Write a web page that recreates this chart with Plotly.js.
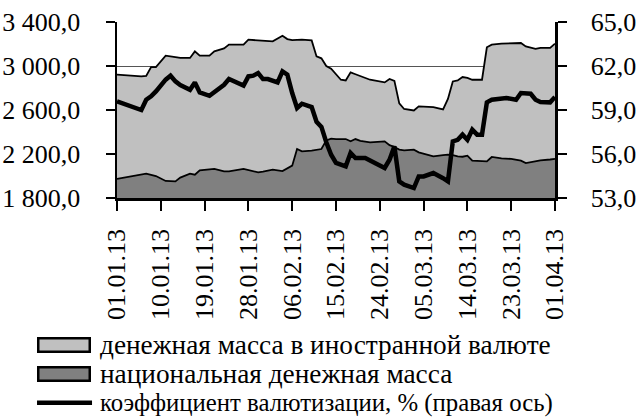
<!DOCTYPE html>
<html>
<head>
<meta charset="utf-8">
<script src="https://cdn.plot.ly/plotly-3.0.1.min.js"></script>
<style>html,body{margin:0;padding:0;background:#fff;}#chart{width:637px;height:419px;}</style>
</head>
<body>
<div id="chart"></div>
<script>
var areaDates = ['2013-01-01','2013-01-04','2013-01-06','2013-01-07','2013-01-08','2013-01-09','2013-01-11','2013-01-13','2013-01-14','2013-01-16',
'2013-01-17','2013-01-18','2013-01-20','2013-01-21','2013-01-23','2013-01-24','2013-01-27','2013-01-28','2013-01-30','2013-01-31',
'2013-02-02','2013-02-04','2013-02-05','2013-02-06','2013-02-07','2013-02-08','2013-02-10','2013-02-11','2013-02-12','2013-02-13',
'2013-02-14','2013-02-15','2013-02-16','2013-02-17','2013-02-18','2013-02-19','2013-02-20','2013-02-22','2013-02-25','2013-02-26',
'2013-02-27','2013-02-28','2013-03-01','2013-03-03','2013-03-04','2013-03-07','2013-03-09','2013-03-10','2013-03-11','2013-03-12',
'2013-03-13','2013-03-14','2013-03-15','2013-03-17','2013-03-18','2013-03-19','2013-03-21','2013-03-23','2013-03-25','2013-03-26',
'2013-03-28','2013-03-29','2013-03-31','2013-04-01'];
// национальная денежная масса
var nationalMass = [1973,2000,2018,2021,2010,2000,1955,1951,1985,2021,
2012,2051,2060,2064,2042,2042,2064,2055,2033,2040,
2057,2045,2070,2094,2245,2224,2230,2235,2245,2324,
2340,2335,2336,2336,2315,2336,2320,2306,2315,2280,
2264,2240,2233,2239,2215,2178,2190,2194,2190,2178,
2175,2185,2140,2133,2133,2173,2160,2155,2140,2118,
2135,2142,2150,2155];
// денежная масса в иностранной валюте
var foreignMass = [948,912,887,889,980,990,1139,1129,1088,1052,
1121,1043,1034,1069,1118,1152,1130,1184,1200,1184,
1167,1230,1175,1142,994,1015,1003,852,825,676,
635,585,539,533,627,589,590,569,536,602,
601,420,376,357,418,449,415,506,670,691,
725,706,735,742,1037,1021,1043,1048,1069,1060,
1020,1022,1014,1048];
// коэффициент валютизации, %
var coefDates = ['2013-01-01','2013-01-06','2013-01-07','2013-01-08','2013-01-09','2013-01-11','2013-01-12','2013-01-13','2013-01-14','2013-01-15',
'2013-01-16','2013-01-17','2013-01-18','2013-01-20','2013-01-21','2013-01-22','2013-01-23','2013-01-24','2013-01-26','2013-01-27',
'2013-01-28','2013-01-29','2013-01-30','2013-01-31','2013-02-01','2013-02-03','2013-02-04','2013-02-05','2013-02-06','2013-02-07',
'2013-02-08','2013-02-09','2013-02-10','2013-02-11','2013-02-12','2013-02-13','2013-02-14','2013-02-15','2013-02-17','2013-02-18',
'2013-02-19','2013-02-21','2013-02-25','2013-02-26','2013-02-27','2013-02-28','2013-03-01','2013-03-03','2013-03-04','2013-03-05',
'2013-03-07','2013-03-09','2013-03-10','2013-03-11','2013-03-12','2013-03-13','2013-03-14','2013-03-15','2013-03-16','2013-03-17',
'2013-03-18','2013-03-19','2013-03-20','2013-03-22','2013-03-24','2013-03-25','2013-03-27','2013-03-28','2013-03-29','2013-03-31',
'2013-04-01'];
var coefValues = [59.59,59.00,59.70,59.93,60.27,61.07,61.34,60.95,60.70,60.55,
60.38,60.88,60.20,59.97,60.20,60.45,60.72,61.11,60.85,60.66,
61.29,61.34,61.52,61.11,61.11,60.88,61.63,61.41,60.16,59.14,
59.43,59.35,59.20,58.20,57.85,56.80,55.95,55.39,55.16,56.07,
55.73,55.73,55.05,55.61,56.52,54.13,53.91,53.68,54.47,54.47,
54.70,54.35,54.13,56.86,56.97,57.32,56.97,57.66,57.32,57.32,
59.52,59.70,59.75,59.82,59.70,60.16,60.11,59.70,59.55,59.52,
59.89];
var leftTicks = [1800,2200,2600,3000,3400];
var leftTickText = ['1 800,0','2 200,0','2 600,0','3 000,0','3 400,0'];
var gridTicks = [3000];
var rightTicks = [53,56,59,62,65];
var rightTickText = ['53,0','56,0','59,0','62,0','65,0'];
var legendNames = ['денежная масса в иностранной валюте','национальная денежная масса','коэффициент валютизации, % (правая ось)'];

var FONT = 'Liberation Serif';
var FS = 26;
var FOREIGN_COLOR = '#c0c0c0', NATIONAL_COLOR = '#808080';

var traces = [
  {x: [], y: [], type:'scatter', mode:'lines', yaxis:'y3', showlegend:false, hoverinfo:'skip'},
  {x: areaDates, y: nationalMass, type:'scatter', mode:'lines', stackgroup:'m',
   line:{color:'#000', width:1.8}, fillcolor:NATIONAL_COLOR, name:legendNames[1], showlegend:false},
  {x: areaDates, y: foreignMass, type:'scatter', mode:'lines', stackgroup:'m',
   line:{color:'#000', width:1.8}, fillcolor:FOREIGN_COLOR, name:legendNames[0], showlegend:false},
  {x: coefDates, y: coefValues, type:'scatter', mode:'lines', yaxis:'y2',
   line:{color:'#000', width:4.5}, name:legendNames[2], showlegend:false}
];

var layout = {
  width:637, height:419,
  margin:{l:117, r:82, t:22, b:221, pad:0},
  paper_bgcolor:'#fff', plot_bgcolor:'rgba(0,0,0,0)',
  font:{family:FONT, size:FS, color:'#000'},
  showlegend:false,
  xaxis:{type:'date', range:['2013-01-01','2013-04-01'], tick0:'2013-01-01', dtick:9*86400000,
    tickformat:'%d.%m.%y', tickangle:-90, ticks:'outside', ticklen:10, tickwidth:2, tickcolor:'#000',
    showline:true, linecolor:'#000', linewidth:2.5, showgrid:false, zeroline:false,
    ticklabelstandoff:8, tickfont:{family:FONT, size:FS}},
  yaxis:{range:[1800,3400], tickvals:leftTicks, ticktext:leftTickText, ticks:'outside', ticklen:9,
    tickwidth:2, tickcolor:'#000', showline:true, linecolor:'#000', linewidth:2.5,
    showgrid:false, zeroline:false, ticklabelstandoff:20, tickfont:{family:FONT, size:FS}},
  yaxis3:{range:[1800,3400], overlaying:'y', tickvals:gridTicks, showticklabels:false, ticks:'',
    showgrid:true, gridcolor:'#555', gridwidth:1, showline:false, zeroline:false},
  yaxis2:{range:[53,65], overlaying:'y', side:'right', tickvals:rightTicks, ticktext:rightTickText,
    ticks:'outside', ticklen:9, tickwidth:2, tickcolor:'#000', showline:true, linecolor:'#000',
    linewidth:2.5, showgrid:false, zeroline:false, ticklabelstandoff:19, tickfont:{family:FONT, size:FS}},
  shapes:[
    {type:'line', xref:'paper', yref:'paper', x0:-0.1826, x1:-0.057, y0:-1.163, y1:-1.163, layer:'above',
     line:{color:'#000', width:4.5}}
  ],
  annotations:[
    {xref:'paper', yref:'paper', x:-0.1210, y:-0.835, xanchor:'center', yanchor:'middle', showarrow:false,
     text:' ', width:49, height:11, borderpad:0, borderwidth:2.5, bordercolor:'#000', bgcolor:FOREIGN_COLOR,
     font:{family:FONT, size:8}},
    {xref:'paper', yref:'paper', x:-0.1210, y:-1.001, xanchor:'center', yanchor:'middle', showarrow:false,
     text:' ', width:49, height:11, borderpad:0, borderwidth:2.5, bordercolor:'#000', bgcolor:NATIONAL_COLOR,
     font:{family:FONT, size:8}},
    {xref:'paper', yref:'paper', x:-0.0434, y:-0.835, xanchor:'left', yanchor:'middle', showarrow:false,
     text:legendNames[0], font:{family:FONT, size:27.3}},
    {xref:'paper', yref:'paper', x:-0.0434, y:-1.0, xanchor:'left', yanchor:'middle', showarrow:false,
     text:legendNames[1], font:{family:FONT, size:27.3}},
    {xref:'paper', yref:'paper', x:-0.0434, y:-1.163, xanchor:'left', yanchor:'middle', showarrow:false,
     text:legendNames[2], font:{family:FONT, size:24.8}}
  ]
};

Plotly.newPlot('chart', traces, layout, {staticPlot:true, displayModeBar:false});
</script>
</body>
</html>
